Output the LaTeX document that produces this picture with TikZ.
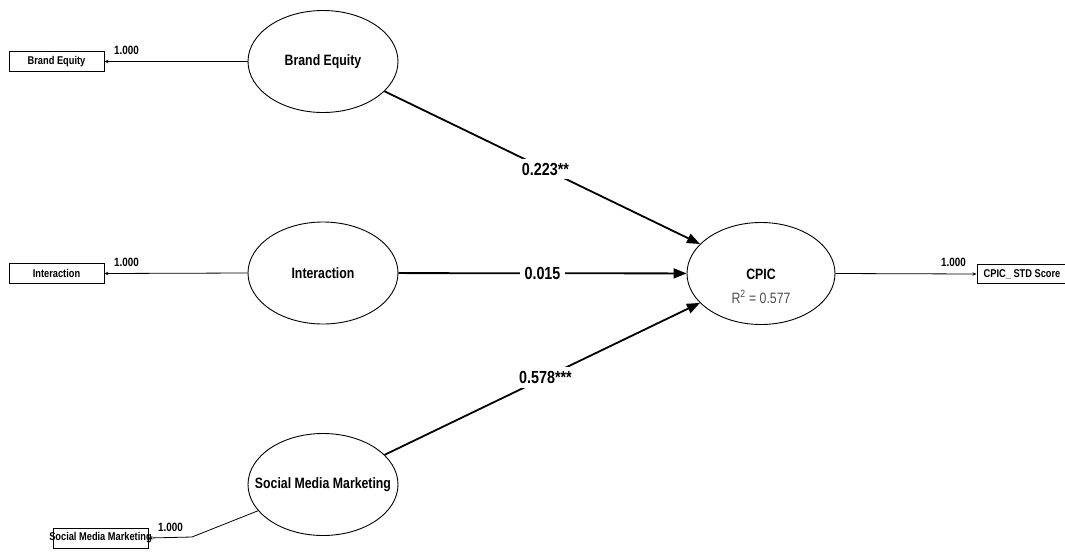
\documentclass[tikz,border=0pt]{standalone}
\usepackage{fontspec}
\setmainfont[FakeStretch=0.82]{Liberation Sans}
\usetikzlibrary{arrows.meta,shapes.geometric}
\begin{document}
\begin{tikzpicture}[x=1pt,y=-1pt,
  latent/.style={ellipse,draw,line width=0.9pt,minimum width=150pt,minimum height=102pt,inner sep=0pt,font=\fontsize{15}{17}\selectfont\bfseries},
  indic/.style={rectangle,draw,line width=0.9pt,minimum width=95pt,minimum height=20pt,inner sep=0pt,font=\fontsize{11.3}{13}\selectfont\bfseries},
  load/.style={line width=0.8pt,-{Stealth[length=4pt,width=3.5pt]}},
  pathc/.style={line width=1.8pt,-{Triangle[length=13pt,width=10pt]}},
  coef/.style={fill=white,inner xsep=5pt,inner ysep=4pt,font=\fontsize{17.5}{19}\selectfont\bfseries},
  wt/.style={font=\fontsize{12}{14}\selectfont\bfseries,inner sep=0pt,anchor=west},
  txt/.style={inner sep=0pt}]
\useasboundingbox (0,0) rectangle (1065,552);

% latent variables
\node[latent] (be) at (323,61.5) {\makebox[0pt]{Brand Equity}};
\node[latent] (int) at (323,273) {\makebox[0pt]{Interaction}};
\node[latent] (smm) at (323,484.5) {\makebox[0pt]{Social Media Marketing}};
\node[latent,minimum width=148pt] (cpic) at (761,273.5) {};
\node[txt,font=\fontsize{15}{17}\selectfont\bfseries] (cpict) at (761,274) {CPIC};
\node[txt,font=\fontsize{15}{17}\selectfont,text=black!70] (r2) at (761,297) {R\textsuperscript{2} = 0.577};

% indicators
\node[indic] (bebox) at (56.5,61.5) {\makebox[0pt]{Brand Equity}};
\node[indic] (intbox) at (56.5,273.5) {\makebox[0pt]{Interaction}};
\node[indic] (smmbox) at (100.5,538) {\makebox[0pt]{Social Media Marketing}};
\node[indic,minimum width=90pt,minimum height=19pt] (cpicbox) at (1022,274) {\makebox[0pt]{CPIC\_ STD Score}};

% loadings
\draw[load] (be.west) -- (bebox.east);
\draw[load] (int.west) -- (intbox.east);
\draw[load] (cpic.east) -- (cpicbox.west);
\coordinate (bend) at (192,537);
\draw[load] (smm.202) -- (bend) -- (smmbox.east);

\node[wt] (w1) at (114,50) {1.000};
\node[wt] (w2) at (114,262) {1.000};
\node[wt] (w3) at (941,262) {1.000};
\node[wt] (w4) at (158,527) {1.000};

% structural paths
\draw[pathc] (be) -- node[coef,pos=0.51] (c1) {0.223**} (cpic);
\draw[pathc] (int) -- node[coef,pos=0.5] (c2) {0.015} (cpic);
\draw[pathc] (smm) -- node[coef,pos=0.51] (c3) {0.578***} (cpic);
\end{tikzpicture}
\end{document}
